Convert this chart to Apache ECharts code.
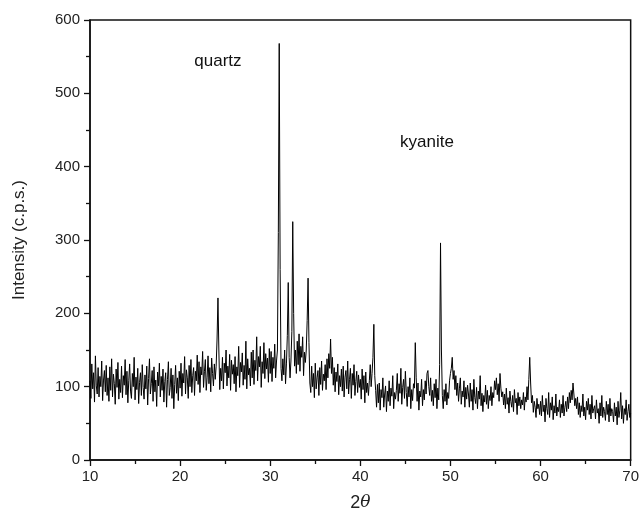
<!DOCTYPE html>
<html>
<head>
<meta charset="utf-8">
<script src="https://cdn.jsdelivr.net/npm/echarts@6/dist/echarts.min.js"></script>
<style>html,body{margin:0;padding:0;background:#fff}#c{width:642px;height:524px}</style>
</head>
<body>
<div id="c"></div>
<script>
// 2-theta scan: start, step, intensity values (c.p.s.), one row per 2 degrees
const twoThetaStart = 10;
const twoThetaStep = 0.1;
const intensity = [
  // 10.0-11.9
  108,84,131,97,119,79,142,101,90,126,86,114,100,135,81,109,122,93,129,88,
  // 12.0-13.9
  112,80,127,95,138,86,117,104,76,124,99,133,83,110,92,128,85,115,102,137,
  // 14.0-15.9
  89,121,78,108,131,94,84,118,100,140,82,113,96,125,77,106,119,88,130,99,
  // 16.0-17.9
  83,116,97,128,75,111,138,90,104,122,80,127,93,109,73,120,101,132,86,114,
  // 18.0-19.9
  95,124,79,107,119,72,110,134,88,99,125,84,116,70,103,129,91,112,81,121,
  // 20.0-21.9
  98,132,87,118,105,141,90,123,112,84,129,100,137,92,115,126,88,121,108,143,
  // 22.0-23.9
  103,134,92,127,116,148,99,121,137,95,113,142,104,126,93,139,118,101,131,110,
  // 24.0-25.9
  128,165,221,150,96,125,108,140,97,132,119,150,101,128,112,144,95,136,117,130,
  // 26.0-27.9
  104,141,93,127,115,155,99,133,120,146,102,129,110,162,97,138,116,125,101,147,
  // 28.0-29.9
  112,150,103,136,122,168,108,141,127,155,99,134,118,160,111,145,124,139,106,152,
  // 30.0-31.9
  118,148,107,140,125,158,112,135,150,310,568,260,125,108,138,116,150,104,131,170,
  // 32.0-33.9
  242,140,112,135,175,325,200,128,150,118,162,130,172,121,155,140,168,115,147,133,
  // 34.0-35.9
  150,190,248,160,105,92,128,100,118,85,132,97,112,122,88,126,103,135,95,117,
  // 36.0-37.9
  108,130,96,138,112,145,125,165,118,140,102,126,93,120,107,131,89,115,100,124,
  // 38.0-39.9
  94,128,86,113,122,97,135,90,110,125,84,118,102,130,88,107,121,92,116,99,
  // 40.0-41.9
  110,83,124,96,115,78,120,92,105,88,108,130,100,118,140,185,115,95,72,103,
  // 42.0-43.9
  78,105,68,96,85,112,72,90,101,66,94,80,108,74,98,87,115,70,92,83,
  // 44.0-45.9
  95,118,80,104,91,125,76,99,110,84,121,92,73,100,86,112,70,96,81,104,
  // 46.0-47.9
  98,160,112,80,105,68,94,86,110,74,96,82,108,90,118,122,100,88,112,80,
  // 48.0-49.9
  95,74,104,85,110,70,98,82,130,296,150,88,70,96,80,104,75,92,84,108,
  // 50.0-51.9
  118,125,140,110,122,96,115,88,105,80,98,112,76,94,86,108,72,99,83,102,
  // 52.0-53.9
  90,72,105,80,96,68,110,85,77,99,70,94,83,115,74,91,66,88,79,102,
  // 54.0-55.9
  76,95,70,88,81,100,74,92,85,108,96,112,89,104,80,118,98,86,93,75,
  // 56.0-57.9
  90,70,98,76,85,64,94,80,72,88,66,96,78,84,62,92,74,86,70,82,
  // 58.0-59.9
  75,92,68,86,79,100,82,110,140,105,78,88,65,80,72,58,84,70,76,62,
  // 60.0-61.9
  80,60,88,66,75,52,84,70,62,92,58,78,68,86,55,74,64,90,60,72,
  // 62.0-63.9
  66,82,58,76,64,88,60,72,80,66,86,70,92,78,95,82,105,90,74,84,
  // 64.0-65.9
  70,86,62,78,58,74,66,90,60,72,55,80,68,84,62,76,56,88,64,70,
  // 66.0-67.9
  74,56,82,64,70,50,78,60,88,58,72,66,54,80,62,76,52,84,60,70,
  // 68.0-69.9
  66,52,78,60,72,48,80,58,68,92,56,74,50,70,62,82,54,66,76,58,
  // 70.0
  64
];
const xTicks = {min: 10, max: 70, interval: 10};
const yTicks = {min: 0, max: 600, interval: 100};
const annotations = [
  {text: 'quartz', x: 24.2, y: 543},
  {text: 'kyanite', x: 47.4, y: 433}
];

const seriesData = intensity.map((v, i) => [+(twoThetaStart + i * twoThetaStep).toFixed(2), v]);
const FONT = '"Liberation Sans", Arial, sans-serif';
const axisCommon = {
  axisLine: {show: true, lineStyle: {color: '#111', width: 1.5}},
  axisTick: {show: true, inside: false, length: 6, lineStyle: {color: '#111', width: 1.3}},
  minorTick: {show: true, splitNumber: 2, length: 4, lineStyle: {color: '#111', width: 1.3}},
  splitLine: {show: false},
  axisLabel: {color: '#222', fontFamily: FONT, fontSize: 15}
};

const chart = echarts.init(document.getElementById('c'), null, {renderer: 'canvas'});
chart.setOption({
  animation: false,
  backgroundColor: '#fff',
  grid: {left: 90, right: 11, top: 20, bottom: 64, show: true, borderColor: '#111', borderWidth: 1.5},
  xAxis: Object.assign({
    type: 'value', min: xTicks.min, max: xTicks.max, interval: xTicks.interval,
    name: '{n|2}{t|θ}', nameLocation: 'middle', nameGap: 34,
    nameTextStyle: {rich: {n: {fontFamily: FONT, fontSize: 18, color: '#222'}, t: {fontFamily: '"DejaVu Serif", serif', fontStyle: 'italic', fontSize: 17, color: '#222'}}}
  }, axisCommon, {axisLabel: Object.assign({}, axisCommon.axisLabel, {margin: 9})}),
  yAxis: Object.assign({
    type: 'value', min: yTicks.min, max: yTicks.max, interval: yTicks.interval,
    name: 'Intensity (c.p.s.)', nameLocation: 'middle', nameGap: 62,
    nameTextStyle: {fontFamily: FONT, fontSize: 17, color: '#222'}
  }, axisCommon, {axisLabel: Object.assign({}, axisCommon.axisLabel, {margin: 10})}),
  series: [{
    type: 'line',
    data: seriesData,
    showSymbol: false,
    symbol: 'none',
    lineStyle: {color: '#000', width: 1},
    markPoint: {
      symbol: 'circle', symbolSize: 0,
      label: {show: true, position: 'inside', formatter: p => p.name, fontFamily: FONT, fontSize: 17, color: '#111'},
      data: annotations.map(a => ({name: a.text, coord: [a.x, a.y]}))
    }
  }]
});
</script>
</body>
</html>
